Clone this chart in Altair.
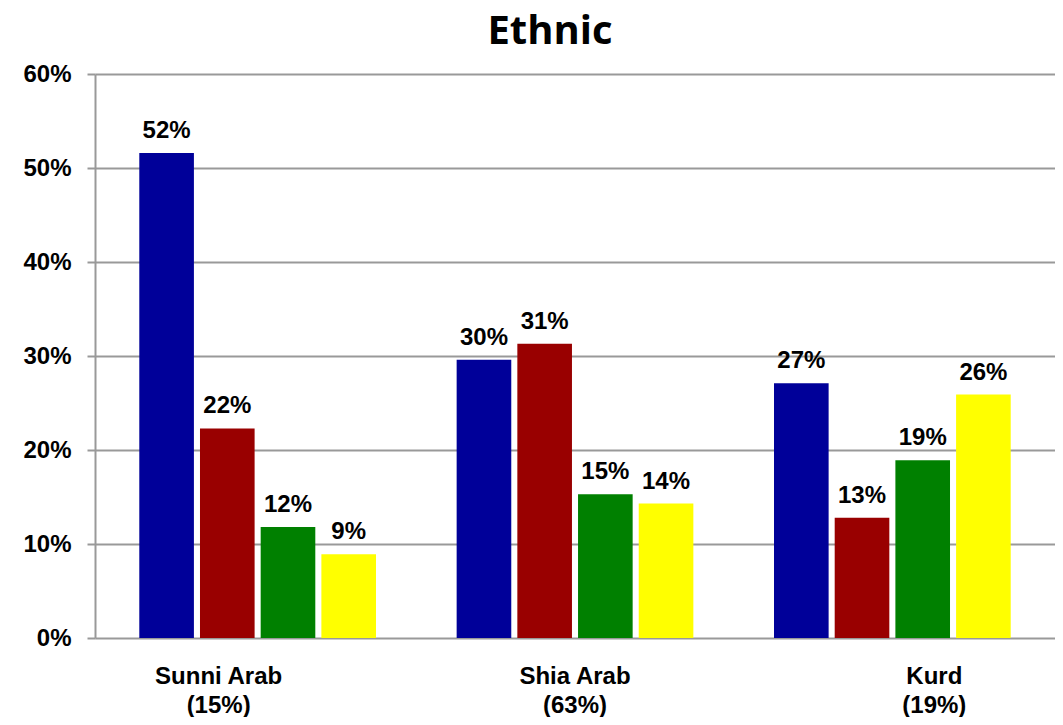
import altair as alt
import pandas as pd

categories = ["Sunni Arab|(15%)", "Shia Arab|(63%)", "Kurd|(19%)"]
series = ["Series 1", "Series 2", "Series 3", "Series 4"]
colors = ["#000099", "#990000", "#008000", "#FFFF00"]
sunni = [51.6, 22.3, 11.8, 8.9]
shia = [29.6, 31.3, 15.3, 14.3]
kurd = [27.1, 12.8, 18.9, 25.9]

rows = []
for cat, vals in zip(categories, [sunni, shia, kurd]):
    for s, v in zip(series, vals):
        rows.append({"cat": cat, "series": s, "value": v / 100})
df = pd.DataFrame(rows)

FONT = "Liberation Sans"
FS = 24

base = alt.Chart(df).encode(
    x=alt.X("cat:N", sort=categories,
            scale=alt.Scale(paddingInner=0.235, paddingOuter=0.13),
            axis=alt.Axis(title=None, labelExpr="split(datum.value, '|')",
                          labelAngle=0, labelFont=FONT, labelFontSize=FS,
                          labelFontWeight="bold", labelColor="black",
                          labelPadding=26, labelLineHeight=29,
                          ticks=False, domain=False,
                          labelOffset={"condition": [
                              {"test": "datum.value == 'Sunni Arab|(15%)'", "value": -39},
                              {"test": "datum.value == 'Kurd|(19%)'", "value": 42}],
                              "value": 0})),
    xOffset=alt.XOffset("series:N", sort=series,
                        scale=alt.Scale(paddingInner=0.1, paddingOuter=0.05)),
)

bars = base.mark_bar().encode(
    y=alt.Y("value:Q", scale=alt.Scale(domain=[0, 0.6]),
            axis=alt.Axis(title=None, format=".0%", values=[0, 0.1, 0.2, 0.3, 0.4, 0.5, 0.6],
                          labelFont=FONT, labelFontSize=FS, labelFontWeight="bold",
                          labelColor="black", labelPadding=16,
                          tickSize=8, tickColor="#999999", tickWidth=2,
                          domainColor="#999999", domainWidth=2,
                          gridColor="#999999", gridWidth=2)),
    color=alt.Color("series:N", sort=series,
                    scale=alt.Scale(domain=series, range=colors), legend=None),
)

labels = base.mark_text(baseline="bottom", dy=-10, font=FONT, fontSize=FS,
                        fontWeight="bold", color="black").encode(
    y=alt.Y("value:Q"),
    text=alt.Text("value:Q", format=".0%"),
)

chart = (bars + labels).properties(
    width=960, height=564,
    title=alt.TitleParams("Ethnic", font="Open Sans", fontSize=40, fontWeight="bold",
                          color="black", anchor="middle", offset=10, dx=-25),
    autosize=alt.AutoSizeParams(type="none"),
    padding={"left": 87, "top": 66, "right": 0, "bottom": 79},
).configure_view(stroke=None)

chart.save("out.html", embed_options={"renderer": "svg", "actions": False})
